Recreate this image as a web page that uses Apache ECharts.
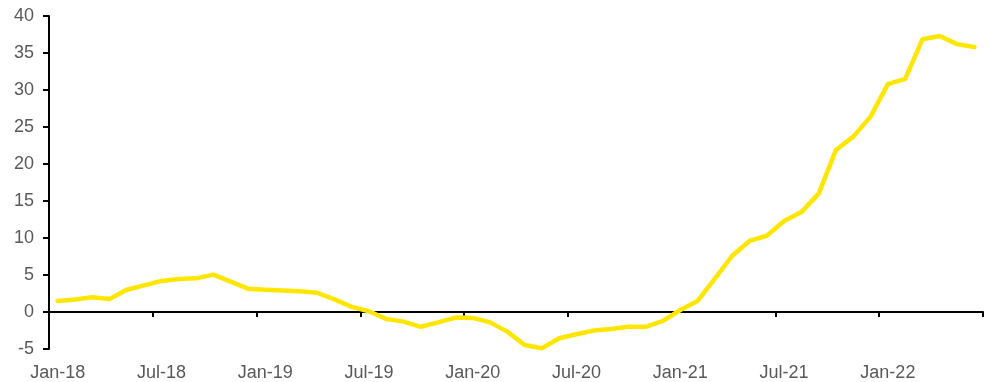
<!DOCTYPE html>
<html>
<head>
<meta charset="utf-8">
<script src="https://cdn.jsdelivr.net/npm/echarts@6/dist/echarts.min.js"></script>
<style>
  html, body { margin: 0; padding: 0; background: #ffffff; }
  #chart { width: 990px; height: 382px; }
</style>
</head>
<body>
<div id="chart"></div>
<script>
// Monthly observations, Jan-18 .. Jun-22
const months = [
  'Jan-18','Feb-18','Mar-18','Apr-18','May-18','Jun-18','Jul-18','Aug-18','Sep-18','Oct-18','Nov-18','Dec-18',
  'Jan-19','Feb-19','Mar-19','Apr-19','May-19','Jun-19','Jul-19','Aug-19','Sep-19','Oct-19','Nov-19','Dec-19',
  'Jan-20','Feb-20','Mar-20','Apr-20','May-20','Jun-20','Jul-20','Aug-20','Sep-20','Oct-20','Nov-20','Dec-20',
  'Jan-21','Feb-21','Mar-21','Apr-21','May-21','Jun-21','Jul-21','Aug-21','Sep-21','Oct-21','Nov-21','Dec-21',
  'Jan-22','Feb-22','Mar-22','Apr-22','May-22','Jun-22'
];

const values = [
  1.5, 1.7, 2.0, 1.75, 3.0, 3.6, 4.2, 4.45, 4.55, 5.05, 4.1, 3.15,
  3.0, 2.9, 2.8, 2.6, 1.7, 0.7, 0.1, -0.95, -1.3, -2.0, -1.4, -0.75,
  -0.8, -1.4, -2.65, -4.45, -4.9, -3.55, -3.0, -2.5, -2.3, -2.0, -2.0, -1.2,
  0.27, 1.5, 4.5, 7.6, 9.6, 10.3, 12.3, 13.5, 16.0, 21.9, 23.7, 26.4,
  30.8, 31.5, 36.85, 37.3, 36.2, 35.8
];

const yMin = -5;
const yMax = 40;
const yStep = 5;

const textColor = '#595959';
const font = 'Arial, "Liberation Sans", sans-serif';

const chart = echarts.init(document.getElementById('chart'), null, { renderer: 'canvas' });

chart.setOption({
  animation: false,
  backgroundColor: '#ffffff',
  grid: { left: 49, right: 7, top: 16, bottom: 33, containLabel: false },
  xAxis: [
    {
      // date labels along the bottom edge
      type: 'category',
      data: months,
      position: 'bottom',
      boundaryGap: true,
      axisLine: { show: false, onZero: false },
      axisTick: { show: false },
      axisLabel: {
        interval: 5,
        color: textColor,
        fontFamily: font,
        fontSize: 18,
        margin: 15
      },
      splitLine: { show: false }
    },
    {
      // baseline through zero with half-year ticks
      type: 'category',
      data: months,
      position: 'top',
      boundaryGap: true,
      axisLine: { show: true, onZero: true, lineStyle: { color: '#000000', width: 2 } },
      axisTick: { show: true, inside: true, interval: 5, length: 5, lineStyle: { color: '#000000', width: 2 } },
      axisLabel: { show: false },
      splitLine: { show: false }
    }
  ],
  yAxis: {
    type: 'value',
    min: yMin,
    max: yMax,
    interval: yStep,
    axisLine: { show: true, lineStyle: { color: '#000000', width: 2 } },
    axisTick: { show: true, length: 6, lineStyle: { color: '#000000', width: 2 } },
    axisLabel: {
      color: textColor,
      fontFamily: font,
      fontSize: 18,
      margin: 15
    },
    splitLine: { show: false }
  },
  series: [
    {
      type: 'line',
      xAxisIndex: 0,
      data: values,
      symbol: 'none',
      smooth: false,
      lineStyle: { color: '#FFE600', width: 4.5, join: 'round', cap: 'round' },
      z: 3
    }
  ]
});
</script>
</body>
</html>
